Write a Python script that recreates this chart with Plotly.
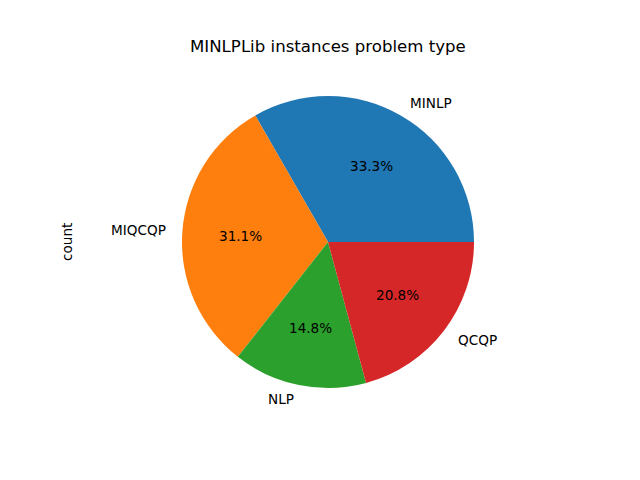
import math
import plotly.graph_objects as go

labels = ["MINLP", "MIQCQP", "NLP", "QCQP"]
values = [33.3, 31.1, 14.8, 20.8]
colors = ["#1f77b4", "#ff7f0e", "#2ca02c", "#d62728"]
title = "MINLPLib instances problem type"
ylabel = "count"

W, H = 640, 480
cx, cy, r = 328, 242, 146  # pie centre and radius in pixels
font = "DejaVu Sans"
total = sum(values)

# plotly (counterclockwise): first slice lies clockwise of the rotation line;
# choose rotation so the first slice starts at 3 o'clock going counterclockwise
rotation = 90 - 360 * values[0] / total

fig = go.Figure(go.Pie(
    labels=labels, values=values, sort=False,
    direction="counterclockwise", rotation=rotation,
    marker=dict(colors=colors, line=dict(width=0)),
    textinfo="none", hoverinfo="label+percent", showlegend=False,
    domain=dict(x=[(cx - r) / W, (cx + r) / W],
                y=[1 - (cy + r) / H, 1 - (cy - r) / H]),
))

cum = 0.0
anns = []
for lab, v in zip(labels, values):
    mid = math.radians(360 * (cum + v / 2) / total)
    cum += v
    c, s = math.cos(mid), math.sin(mid)
    lx, ly = cx + 1.1 * r * c, cy - 1.1 * r * s
    anns.append(dict(x=lx / W, y=1 - ly / H, xref="paper", yref="paper",
                     text=lab, showarrow=False,
                     xanchor="left" if c > 0 else "right", yanchor="middle",
                     font=dict(family=font, size=13.6, color="black")))
    px, py = cx + 0.6 * r * c, cy - 0.6 * r * s
    anns.append(dict(x=px / W, y=1 - py / H, xref="paper", yref="paper",
                     text="%.1f%%" % (100 * v / total), showarrow=False,
                     xanchor="center", yanchor="middle",
                     font=dict(family=font, size=13.6, color="black")))

anns.append(dict(x=67 / W, y=1 - cy / H, xref="paper", yref="paper",
                 text=ylabel, showarrow=False, textangle=-90,
                 xanchor="center", yanchor="middle",
                 font=dict(family=font, size=13.6, color="black")))
anns.append(dict(x=cx / W, y=1 - 47 / H, xref="paper", yref="paper",
                 text=title, showarrow=False,
                 xanchor="center", yanchor="middle",
                 font=dict(family=font, size=16.6, color="black")))

fig.update_layout(width=W, height=H, margin=dict(l=0, r=0, t=0, b=0),
                  paper_bgcolor="white", plot_bgcolor="white",
                  annotations=anns)
fig.write_html("out.html", config={"displayModeBar": False},
               post_script="document.body.style.margin='0';")
